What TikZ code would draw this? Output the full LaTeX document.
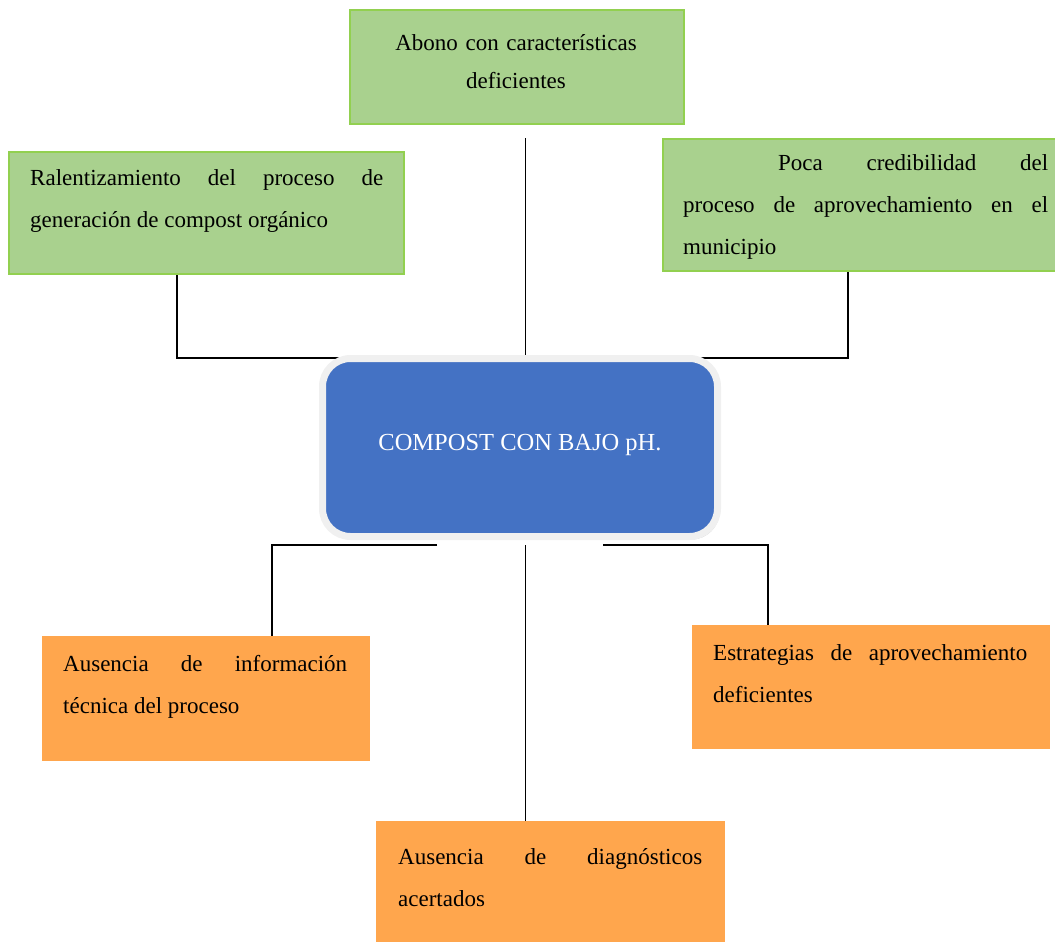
\documentclass[tikz,border=0pt]{standalone}
\usepackage{fontspec}
\setmainfont{Liberation Serif}
\usetikzlibrary{shadows}
\definecolor{verde}{HTML}{A9D18E}
\definecolor{verdeborde}{HTML}{92D050}
\definecolor{naranja}{HTML}{FFA64D}
\definecolor{azul}{HTML}{4472C4}
\definecolor{marco}{HTML}{F0F0F0}
\tikzset{
  efecto/.style={fill=verde, draw=verdeborde, line width=2pt, anchor=north west, inner sep=0pt},
  causa/.style={fill=naranja, draw=none, anchor=north west, inner sep=0pt},
  centro/.style={fill=azul, draw=marco, line width=7pt, rounded corners=28pt,
    minimum width=395, minimum height=178, text=white, font=\fontsize{24.5}{29}\selectfont,
    drop shadow={shadow xshift=2pt, shadow yshift=-3pt, fill=black!35}},
  texto/.style={anchor=north west, inner sep=0pt, align=justify, font=\fontsize{23}{42}\selectfont},
  linea/.style={line width=1.6pt},
  fina/.style={line width=1pt},
}
\begin{document}
\begin{tikzpicture}[x=1pt, y=-1pt]
        \useasboundingbox (0,0) rectangle (1055,942);
        % efectos (arriba)
        \node[efecto, minimum width=334, minimum height=114] (abono) at (349,9) {};
        \node[efecto, minimum width=395, minimum height=122] (ral) at (8,151) {};
        \node[efecto, minimum width=396, minimum height=132] (poca) at (662,138) {};
        \node[anchor=north, inner sep=0pt, align=center, text width=320,
          font=\fontsize{23}{38}\selectfont] (abono-t) at (516,23.4) {\strut Abono con características\\deficientes};
        \node[texto, text width=353] (ral-t) at (30,155.6) {\strut Ralentizamiento del proceso de\linebreak generación de compost orgánico};
        \node[texto, text width=365] (poca-t) at (683,140.6) {\strut\hspace*{95pt}Poca credibilidad del\linebreak proceso de aprovechamiento en el\linebreak municipio};
        % causas (abajo)
        \node[causa, minimum width=328, minimum height=125] (ausinf) at (42,636) {};
        \node[causa, minimum width=358, minimum height=124] (estr) at (692,625) {};
        \node[causa, minimum width=349, minimum height=121] (ausdiag) at (376,821) {};
        \node[texto, text width=284] (ausinf-t) at (63,641.6) {\strut Ausencia de información\linebreak técnica del proceso};
        \node[texto, text width=314] (estr-t) at (713,630.6) {\strut Estrategias de aprovechamiento\linebreak deficientes};
        \node[texto, text width=304] (ausdiag-t) at (398,834.6) {\strut Ausencia de diagnósticos\linebreak acertados};
        % conectores de los efectos
        \coordinate (ci) at (177,358);
        \coordinate (ci2) at (340,358);
        \coordinate (cd) at (848,358);
        \coordinate (cd2) at (686,358);
        \draw[linea] (ral.south -| ci) -- (ci) -- (ci2);
        \draw[linea] (poca.south -| cd) -- (cd) -- (cd2);
        % problema central
        \node[centro] (comp) at (520,447.5) {\raisebox{10pt}{COMPOST CON BAJO pH.}};
        \coordinate (ca) at (525,138);
        \draw[fina] (ca) -- (ca |- comp.north);
        % conectores de las causas
        \coordinate (bi) at (272,545);
        \coordinate (bi2) at (437,545);
        \coordinate (bd) at (768,545);
        \coordinate (bd2) at (603,545);
        \coordinate (cb) at (525,545);
        \draw[linea] (bi2) -- (bi) -- (bi |- ausinf.north);
        \draw[linea] (bd2) -- (bd) -- (bd |- estr.north);
        \draw[fina] (cb) -- (cb |- ausdiag.north);
\end{tikzpicture}
\end{document}
